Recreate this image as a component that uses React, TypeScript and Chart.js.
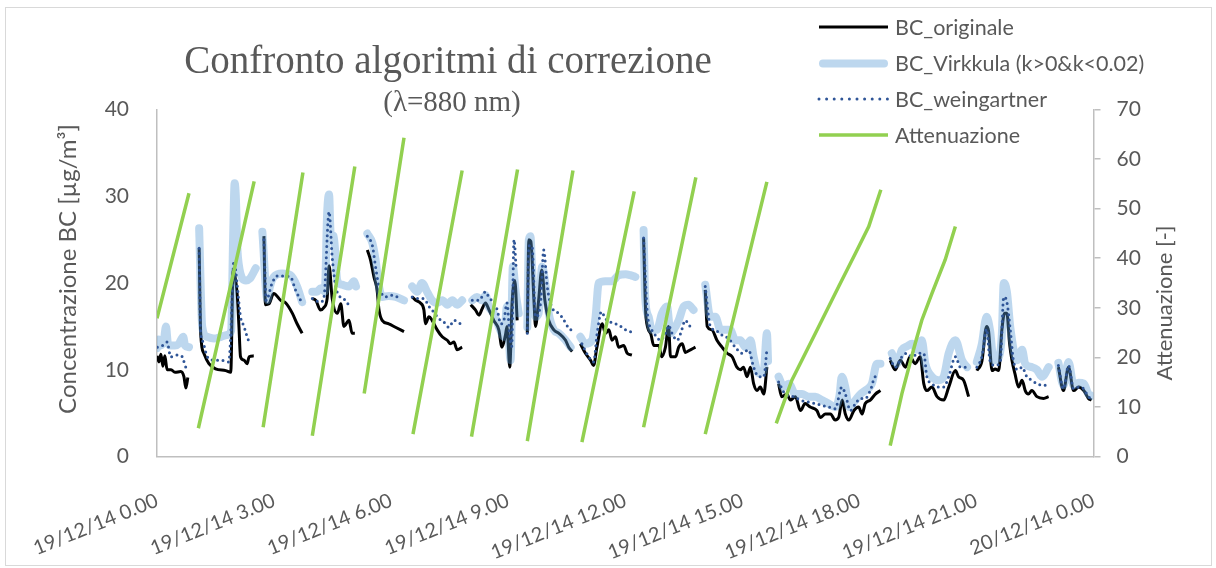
import { useEffect, useRef } from 'react';
import { Chart, registerables } from 'chart.js';

Chart.register(...registerables);

// ---- time axis (hours since 19/12/14 0.00) ----
const tickHours = [0, 3, 6, 9, 12, 15, 18, 21, 24];
const tickLabels = [
  '19/12/14 0.00', '19/12/14 3.00', '19/12/14 6.00', '19/12/14 9.00', '19/12/14 12.00',
  '19/12/14 15.00', '19/12/14 18.00', '19/12/14 21.00', '20/12/14 0.00',
];

// ---- BC_originale [µg/m³] (null = filter change, line break) ----
const hOriginale = [
  0, 0.05, 0.10, 0.15, 0.20, 0.26, 0.36, 0.46, 0.61, 0.69, 0.74, 0.79, 0.95,
  1.08, 1.12, 1.20, 1.33, 1.50, 1.76, 1.89, 1.95, 2.06, 2.10, 2.14, 2.23, 2.31, 2.36, 2.48, 2.6,
  2.74, 2.78, 2.87, 2.99, 3.17, 3.30, 3.47, 3.59, 3.72, 3.85,
  3.98, 4.07, 4.19, 4.28, 4.36, 4.41, 4.49, 4.62, 4.71, 4.79, 4.92, 5.00, 5.07, 5.2,
  5.39, 5.47, 5.56, 5.64, 5.69, 5.77, 5.94, 6.11, 6.33, 6.45,
  6.54, 6.63, 6.75, 6.84, 6.88, 6.97, 7.05, 7.18, 7.31, 7.44, 7.52, 7.61, 7.69, 7.82, 7.93,
  8.04, 8.16, 8.25, 8.33, 8.42, 8.50, 8.63, 8.76, 8.84, 8.93, 8.97, 9.04, 9.10, 9.17, 9.23, 9.36,
  9.49, 9.53, 9.58, 9.66, 9.70, 9.78, 9.86, 9.94, 10.04, 10.17, 10.30, 10.47, 10.55, 10.64, 10.75,
  10.85, 10.98, 11.11, 11.19, 11.27, 11.41, 11.49, 11.58, 11.66, 11.75, 11.83, 11.96, 12.05, 12.17, 12.32,
  12.47, 12.53, 12.65, 12.73, 12.86, 12.93, 13.03, 13.11, 13.16, 13.29, 13.37, 13.46, 13.54, 13.67, 13.80, 13.93,
  14.05, 14.10, 14.22, 14.35, 14.48, 14.61, 14.74, 14.86, 14.95, 15.03, 15.12, 15.21, 15.29, 15.38, 15.46, 15.55, 15.63, 15.78,
  15.93, 16.01, 16.14, 16.23, 16.36, 16.49, 16.61, 16.74, 16.91, 17.00, 17.13, 17.26, 17.38, 17.47, 17.56, 17.64, 17.73, 17.86, 17.98, 18.07, 18.15, 18.28, 18.41, 18.54, 18.66,
  18.79, 18.92, 19.05, 19.18, 19.30, 19.43, 19.56, 19.65, 19.73, 19.86, 19.99, 20.16, 20.29, 20.46, 20.54, 20.67, 20.80, 20.9,
  21.01, 21.14, 21.26, 21.31, 21.40, 21.48, 21.57, 21.65, 21.72, 21.78, 21.85, 21.91, 21.99, 22.08, 22.17, 22.25, 22.33, 22.42, 22.55, 22.72, 22.85, 22.97,
  23.10, 23.23, 23.36, 23.49, 23.62, 23.75, 23.87, 23.95,
];
const bcOriginale = [
  11.6, 10.9, 11.8, 10.4, 11.6, 10.0, 10.0, 9.7, 9.8, 9.2, 7.9, 9.1, null,
  24.0, 14.2, 11.9, 10.7, 10.1, 9.9, 9.7, 21.5, 18.4, 15.0, 11.5, 11.1, 10.7, 11.5, 11.6, null,
  25.4, 17.5, 17.6, 18.8, 18.0, 17.7, 16.5, 15.3, 14.2, null,
  18.2, 18.0, 16.9, 17.2, 18.2, 22.0, 18.2, 16.5, 17.6, 15.0, 15.7, 14.2, 14.2, null,
  23.8, 22.7, 20.7, 19.2, 16.9, 15.7, 15.3, 14.9, 14.4, null,
  18.4, 18.0, 17.7, 16.9, 15.3, 16.1, 15.7, 14.6, 13.8, 13.4, 13.0, 13.2, 12.3, 12.6, null,
  17.5, 16.9, 16.3, 17.0, 17.7, 17.0, 15.7, 14.6, 12.6, 14.0, 15.0, 10.3, 17.7, 20.3, 15.7, null,
  14.2, 25.0, 24.8, 18.0, 15.0, 18.0, 21.5, 18.0, 15.7, 14.6, 14.2, 13.4, 12.6, 12.1, null,
  13.0, 11.9, 11.1, 10.5, 12.5, 15.3, 14.2, 14.6, 13.4, 13.8, 12.6, 12.8, 11.9, 11.7, null,
  25.2, 16.1, 14.2, 12.8, 12.8, 11.5, 12.6, 15.0, 11.5, 11.5, 12.6, 13.0, 12.0, 12.3, 12.6, null,
  19.2, 15.0, 14.6, 13.4, 12.6, 11.9, 11.5, 10.3, 10.0, 10.3, 9.2, 10.3, 8.4, 7.6, 8.0, 7.2, 10.3, null,
  8.4, 6.9, 7.2, 6.5, 6.9, 5.3, 6.1, 5.7, 5.3, 4.5, 4.9, 4.9, 4.2, 4.5, 6.5, 4.9, 4.2, 5.3, 5.7, 4.9, 6.1, 6.5, 7.2, 7.6, null,
  11.1, 10.0, 11.1, 10.3, 11.5, 10.7, 11.5, 8.4, 7.6, 8.0, 6.9, 6.5, 8.0, 9.9, 9.2, 8.8, 6.9, null,
  9.9, 11.0, 15.0, 14.5, 9.9, 10.1, 9.9, 14.5, 16.5, 16.5, 13.0, 11.1, 9.5, 8.0, 8.8, 7.6, 7.2, 7.6, 6.9, 6.7, 6.9, null,
  10.3, 7.6, 10.3, 7.6, 8.0, 7.6, 6.7, 6.5,
];

// ---- BC_Virkkula (k>0&k<0.02) [µg/m³] ----
const hVirkkula = [
  0, 0.05, 0.10, 0.18, 0.23, 0.28, 0.36, 0.46, 0.56, 0.67, 0.72, 0.82, 0.95,
  1.08, 1.16, 1.28, 1.46, 1.64, 1.79, 1.90, 1.95, 1.99, 2.02, 2.06, 2.10, 2.19, 2.28, 2.38, 2.53, 2.62,
  2.70, 2.83, 2.89, 2.99, 3.21, 3.42, 3.59, 3.72, 3.85,
  3.98, 4.10, 4.20, 4.30, 4.36, 4.41, 4.45, 4.53, 4.62, 4.74, 4.92, 5.05, 5.10, 5.2,
  5.39, 5.52, 5.60, 5.69, 5.77, 5.94, 6.12, 6.33, 6.45,
  6.54, 6.67, 6.79, 6.92, 7.05, 7.18, 7.31, 7.44, 7.57, 7.69, 7.82, 7.95,
  8.08, 8.20, 8.33, 8.42, 8.50, 8.63, 8.76, 8.89, 8.97, 9.06, 9.12, 9.19, 9.27, 9.38,
  9.49, 9.53, 9.57, 9.61, 9.70, 9.78, 9.87, 9.96, 10.04, 10.17, 10.30, 10.47, 10.60, 10.75,
  10.85, 10.98, 11.15, 11.24, 11.32, 11.49, 11.66, 11.83, 12.01, 12.13, 12.26, 12.36,
  12.47, 12.51, 12.60, 12.68, 12.81, 12.94, 13.07, 13.16, 13.24, 13.37, 13.50, 13.62, 13.75, 13.9,
  14.05, 14.18, 14.31, 14.44, 14.57, 14.69, 14.82, 14.95, 15.08, 15.21, 15.29, 15.42, 15.55, 15.63, 15.66, 15.8,
  15.93, 16.06, 16.19, 16.36, 16.53, 16.70, 16.87, 17.04, 17.21, 17.38, 17.49, 17.55, 17.64, 17.73, 17.90, 18.03, 18.15, 18.32, 18.45, 18.54, 18.68,
  18.83, 18.96, 19.09, 19.22, 19.35, 19.48, 19.60, 19.69, 19.86, 20.03, 20.16, 20.29, 20.46, 20.63, 20.76, 20.9,
  21.01, 21.14, 21.26, 21.35, 21.44, 21.57, 21.65, 21.70, 21.78, 21.87, 22.04, 22.17, 22.25, 22.42, 22.55, 22.68, 22.85, 22.97,
  23.10, 23.23, 23.36, 23.49, 23.62, 23.75, 23.87, 23.95,
];
const bcVirkkula = [
  12.5, 13.5, 12.8, 13.5, 15.0, 13.0, 12.8, 12.8, 13.0, 13.8, 12.8, 12.6, null,
  26.3, 14.9, 13.8, 13.6, 13.8, 14.0, 14.5, 25.0, 31.5, 30.0, 24.0, 22.0, 20.5, 20.3, 20.5, 21.7, null,
  25.9, 18.0, 19.5, 20.7, 21.1, 20.9, 19.6, 17.8, null,
  19.0, 19.0, 19.4, 19.0, 28.0, 30.2, 25.7, 25.4, 20.3, 19.8, 19.6, 20.2, 19.6, null,
  25.7, 24.6, 22.7, 19.6, 18.4, 18.5, 18.4, 18.0, null,
  19.6, 19.0, 20.0, 19.0, 18.0, 17.7, 18.0, 17.5, 18.0, 17.5, 18.0, null,
  18.0, 18.4, 18.0, 18.6, 17.3, 16.5, 15.0, 13.8, 17.3, 11.1, 21.9, 19.0, 16.5, null,
  14.9, 25.0, 25.4, 21.9, 16.1, 16.5, 21.9, 19.6, 16.5, 14.6, 14.2, 13.4, 12.6, null,
  13.8, 13.0, 13.4, 16.1, 20.0, 20.2, 20.2, 20.9, 21.0, 20.9, 20.7, null,
  26.1, 18.4, 16.1, 14.6, 14.6, 16.5, 17.3, 14.2, 14.6, 15.7, 17.3, 17.5, 16.9, null,
  19.8, 16.1, 16.1, 14.6, 14.6, 14.6, 13.4, 13.4, 12.6, 13.4, 11.5, 9.6, 9.9, 14.2, 11.0, null,
  9.2, 8.0, 8.4, 7.2, 7.2, 6.9, 6.9, 6.5, 6.1, 5.7, 7.0, 9.2, 8.0, 5.7, 6.5, 7.2, 7.6, 8.4, 10.7, 10.7, null,
  11.9, 10.7, 12.3, 12.7, 13.0, 12.3, 13.4, 10.7, 9.2, 8.8, 9.2, 11.9, 13.4, 11.1, 10.3, null,
  10.9, 13.0, 16.1, 14.5, 11.1, 11.4, 14.0, 20.0, 19.0, 14.8, 11.1, 12.3, 10.7, 10.3, 10.0, 9.2, 10.3, null,
  10.8, 8.2, 10.9, 8.2, 8.5, 8.4, 7.2, 7.0,
];

// ---- BC_weingartner [µg/m³] ----
const hWeingartner = [
  0.01, 0.14, 0.26, 0.35, 0.52, 0.65, 0.74, 0.82, 0.95,
  1.08, 1.12, 1.16, 1.29, 1.46, 1.63, 1.84, 1.89, 1.97, 2.06, 2.10, 2.14, 2.23, 2.31, 2.36, 2.6,
  2.74, 2.80, 2.95, 3.08, 3.25, 3.42, 3.55, 3.68, 3.85,
  3.98, 4.19, 4.28, 4.41, 4.49, 4.58, 4.66, 4.83, 4.96, 5.2,
  5.39, 5.52, 5.60, 5.69, 5.86, 6.03, 6.24, 6.45,
  6.54, 6.71, 6.84, 6.97, 7.10, 7.22, 7.35, 7.48, 7.61, 7.78, 7.93,
  8.08, 8.25, 8.42, 8.50, 8.63, 8.72, 8.81, 8.89, 8.97, 9.04, 9.09, 9.15, 9.20, 9.36,
  9.49, 9.53, 9.61, 9.70, 9.83, 9.91, 10.00, 10.13, 10.30, 10.43, 10.55, 10.64, 10.75,
  10.89, 11.06, 11.19, 11.28, 11.39, 11.49, 11.62, 11.75, 11.88, 12.01, 12.13, 12.22, 12.36,
  12.47, 12.56, 12.68, 12.77, 12.90, 13.03, 13.11, 13.20, 13.33, 13.42, 13.54, 13.67, 13.76, 13.9,
  14.05, 14.18, 14.31, 14.44, 14.57, 14.65, 14.82, 14.99, 15.16, 15.29, 15.42, 15.55, 15.63, 15.8,
  15.93, 16.10, 16.31, 16.49, 16.66, 16.87, 17.04, 17.21, 17.38, 17.55, 17.64, 17.77, 17.90, 18.03, 18.15, 18.28, 18.41, 18.54, 18.66,
  18.79, 18.92, 19.09, 19.22, 19.35, 19.52, 19.65, 19.73, 19.86, 19.99, 20.16, 20.29, 20.46, 20.59, 20.72, 20.9,
  21.01, 21.14, 21.26, 21.35, 21.48, 21.61, 21.70, 21.78, 21.87, 21.95, 22.08, 22.17, 22.29, 22.42, 22.55, 22.72, 22.83, 22.97,
  23.10, 23.23, 23.36, 23.49, 23.62, 23.75, 23.87, 23.95,
];
const bcWeingartner = [
  12.6, 12.8, 13.2, 11.5, 11.7, 11.5, 10.3, 10.7, null,
  24.0, 14.2, 13.4, 11.5, 11.1, 11.1, 10.9, 14.0, 22.5, 19.6, 17.7, 16.1, 15.0, 13.8, 13.2, null,
  25.0, 18.0, 20.0, 20.8, 20.8, 20.7, 19.2, 18.0, null,
  18.2, 17.8, 18.4, 28.2, 23.0, 19.6, 18.6, 18.0, 17.1, null,
  25.4, 24.3, 21.9, 19.6, 18.4, 18.6, 18.2, null,
  18.4, 18.2, 18.2, 17.3, 16.6, 15.9, 15.5, 14.9, 15.7, 15.3, null,
  18.0, 18.0, 19.0, 18.4, 17.7, 16.9, 15.3, 15.7, 17.7, 13.8, 12.7, 25.0, 22.0, null,
  14.2, 24.3, 24.3, 16.1, 17.7, 23.8, 19.6, 17.1, 16.5, 15.7, 14.8, 14.5, null,
  13.0, 11.5, 10.9, 14.2, 16.7, 15.9, 15.5, 15.3, 15.0, 14.6, 14.4, 14.1, null,
  25.2, 16.9, 14.6, 14.0, 13.4, 14.2, 15.1, 14.2, 13.4, 14.2, 15.7, 15.0, 15.0, null,
  19.6, 15.0, 14.6, 14.1, 13.8, 13.6, 12.6, 11.9, 12.3, 10.3, 9.2, 9.2, 12.3, null,
  8.6, 7.2, 6.9, 6.5, 6.3, 6.1, 5.9, 5.7, 5.5, 8.0, 7.2, 5.3, 6.1, 6.7, 6.7, 7.6, 9.2, 9.2, null,
  11.3, 10.3, 11.5, 11.9, 11.5, 11.9, 11.9, 9.2, 8.4, 8.0, 8.0, 9.2, 11.5, 10.3, 10.3, null,
  10.3, 11.5, 14.7, 11.0, 10.5, 10.9, 18.4, 17.8, 14.5, 11.0, 10.0, 10.3, 9.2, 8.8, 8.4, 8.2, 8.3, null,
  10.5, 7.8, 10.5, 7.8, 8.0, 7.8, 6.9, 6.7,
];

// ---- Attenuazione [-] (one ramp per filter spot) ----
const hAttenuazione = [
  0, 0.82, 0.95,
  1.06, 2.49, 2.6,
  2.72, 3.74, 3.85,
  3.98, 5.07, 5.2,
  5.31, 6.33, 6.45,
  6.56, 7.82, 7.93,
  8.06, 9.24, 9.36,
  9.49, 10.66, 10.75,
  10.89, 12.23, 12.36,
  12.47, 13.81, 13.93,
  14.05, 15.63, 15.78,
  15.87, 16.27, 16.87, 17.47, 17.90, 18.24, 18.55, 18.66,
  18.79, 19.09, 19.43, 19.60, 19.86, 20.20, 20.46,
];
const attenuazione = [
  27.9, 53.1, null,
  5.7, 55.5, null,
  5.9, 57.3, null,
  4.2, 58.5, null,
  12.7, 64.3, null,
  4.5, 57.7, null,
  4.0, 57.9, null,
  3.1, 57.7, null,
  2.9, 53.5, null,
  5.9, 56.3, null,
  4.5, 55.4, null,
  6.7, 15.4, 24.8, 34.3, 41.0, 46.4, 53.8, null,
  2.2, 12.7, 22.8, 27.5, 32.9, 39.7, 46.4,
];

const FONT = 'Lato, "Open Sans", sans-serif';
const SERIF = '"Liberation Serif", "DejaVu Serif", serif';
const TEXT = '#595959';
const AXIS = '#BFBFBF';
const BLACK = '#000000';
const LIGHT = 'rgba(91,155,213,0.4)';
const DOTS = '#2F5597';
const GREEN = '#92D050';

const toPoints = (hours: number[], values: (number | null)[]) =>
  hours.map((h, i) => ({ x: h, y: values[i] }));

const legendItems = [
  { label: 'BC_originale', color: BLACK, width: 3, dash: [] as number[], cap: 'butt' as CanvasLineCap },
  { label: 'BC_Virkkula (k>0&k<0.02)', color: LIGHT, width: 8, dash: [] as number[], cap: 'round' as CanvasLineCap },
  { label: 'BC_weingartner', color: DOTS, width: 3, dash: [0, 7.6], cap: 'round' as CanvasLineCap },
  { label: 'Attenuazione', color: GREEN, width: 3.5, dash: [] as number[], cap: 'butt' as CanvasLineCap },
];

const decorations = {
  id: 'decorations',
  beforeDraw(chart: Chart) {
    const ctx = chart.ctx;
    ctx.save();
    ctx.fillStyle = '#ffffff';
    ctx.fillRect(0, 0, chart.width, chart.height);
    ctx.strokeStyle = '#D9D9D9';
    ctx.lineWidth = 1;
    ctx.strokeRect(5.5, 7.5, 1206, 558);
    ctx.restore();
  },
  afterDraw(chart: Chart) {
    const ctx = chart.ctx;
    const area = chart.chartArea;
    ctx.save();
    ctx.fillStyle = TEXT;
    ctx.textAlign = 'center';
    ctx.textBaseline = 'middle';

    // title and subtitle
    ctx.font = `39px ${SERIF}`;
    ctx.fillText('Confronto algoritmi di correzione', 448, 63);
    ctx.font = `29px ${SERIF}`;
    ctx.fillText('(λ=880 nm)', 452, 103);

    // axis titles
    ctx.font = `24px ${FONT}`;
    ctx.save();
    ctx.translate(68, 269);
    ctx.rotate(-Math.PI / 2);
    ctx.fillText('Concentrazione BC [µg/m³]', 0, 0);
    ctx.restore();
    ctx.font = `22px ${FONT}`;
    ctx.save();
    ctx.translate(1165, (area.top + area.bottom) / 2 + 20);
    ctx.rotate(-Math.PI / 2);
    ctx.fillText('Attenuazione [-]', 0, 0);
    ctx.restore();

    // legend
    const rows = [27, 63.5, 99, 135];
    ctx.textAlign = 'left';
    ctx.font = `21.5px ${FONT}`;
    legendItems.forEach((item, i) => {
      const y = rows[i];
      ctx.save();
      ctx.strokeStyle = item.color;
      ctx.lineWidth = item.width;
      ctx.lineCap = item.cap;
      ctx.setLineDash(item.dash);
      ctx.beginPath();
      if (item.cap === 'round' && item.dash.length === 0) {
        ctx.moveTo(823, y);
        ctx.lineTo(884, y);
      } else {
        ctx.moveTo(819, y);
        ctx.lineTo(888, y);
      }
      ctx.stroke();
      ctx.restore();
      ctx.fillStyle = TEXT;
      ctx.fillText(item.label, 895, y + 1);
    });
    ctx.restore();
  },
};

export default function App() {
  const canvasRef = useRef<HTMLCanvasElement | null>(null);

  useEffect(() => {
    const canvas = canvasRef.current;
    if (!canvas) return;
    const common = {
      pointRadius: 0,
      pointHoverRadius: 0,
      spanGaps: false,
      cubicInterpolationMode: 'monotone' as const,
      fill: false,
    };
    const chart = new Chart(canvas, {
      type: 'line',
      data: {
        datasets: [
          {
            ...common,
            label: 'BC_originale',
            data: toPoints(hOriginale, bcOriginale),
            borderColor: BLACK,
            borderWidth: 3,
            yAxisID: 'y',
            order: 3,
          },
          {
            ...common,
            label: 'BC_Virkkula (k>0&k<0.02)',
            data: toPoints(hVirkkula, bcVirkkula),
            borderColor: LIGHT,
            borderWidth: 8,
            borderCapStyle: 'round',
            borderJoinStyle: 'round',
            yAxisID: 'y',
            order: 2,
          },
          {
            ...common,
            label: 'BC_weingartner',
            data: toPoints(hWeingartner, bcWeingartner),
            borderColor: DOTS,
            borderWidth: 3,
            borderDash: [0, 5.5],
            borderCapStyle: 'round',
            yAxisID: 'y',
            order: 1,
          },
          {
            ...common,
            label: 'Attenuazione',
            data: toPoints(hAttenuazione, attenuazione),
            borderColor: GREEN,
            borderWidth: 3.5,
            cubicInterpolationMode: 'default',
            tension: 0,
            yAxisID: 'y1',
            order: 0,
          },
        ],
      },
      options: {
        responsive: false,
        animation: false,
        devicePixelRatio: 1,
        events: [],
        layout: { padding: { top: 109.5, left: 0, right: 0, bottom: 0 } },
        plugins: {
          legend: { display: false },
          title: { display: false },
          tooltip: { enabled: false },
        },
        scales: {
          x: {
            type: 'linear',
            position: 'bottom',
            min: 0,
            max: 24,
            afterBuildTicks: (scale: any) => {
              scale.ticks = tickHours.map((v) => ({ value: v }));
            },
            afterFit: (scale: any) => {
              scale.height = 111.5;
            },
            grid: { display: false },
            border: { display: true, color: AXIS, width: 1.5 },
            ticks: {
              autoSkip: false,
              minRotation: 22,
              maxRotation: 22,
              padding: 24,
              color: TEXT,
              font: { family: FONT, size: 20 },
              callback: (value: any) => tickLabels[tickHours.indexOf(Number(value))] ?? '',
            },
          },
          y: {
            type: 'linear',
            position: 'left',
            min: 0,
            max: 40,
            afterFit: (scale: any) => {
              scale.width = 157;
            },
            grid: { display: false },
            border: { display: true, color: AXIS, width: 1.5 },
            ticks: {
              stepSize: 10,
              padding: 20,
              color: TEXT,
              font: { family: FONT, size: 21 },
            },
          },
          y1: {
            type: 'linear',
            position: 'right',
            min: 0,
            max: 70,
            afterFit: (scale: any) => {
              scale.width = 122.5;
            },
            grid: {
              display: true,
              drawOnChartArea: false,
              drawTicks: true,
              tickLength: 7,
              color: AXIS,
              lineWidth: 1.5,
            },
            border: { display: true, color: AXIS, width: 1.5 },
            ticks: {
              stepSize: 10,
              padding: 16,
              color: TEXT,
              font: { family: FONT, size: 21 },
            },
          },
        },
      },
      plugins: [decorations],
    });
    return () => chart.destroy();
  }, []);

  return (
    <div style={{ position: 'absolute', left: 0, top: 0, width: 1216, height: 568 }}>
      <canvas ref={canvasRef} width={1216} height={568} style={{ width: 1216, height: 568 }} />
    </div>
  );
}
